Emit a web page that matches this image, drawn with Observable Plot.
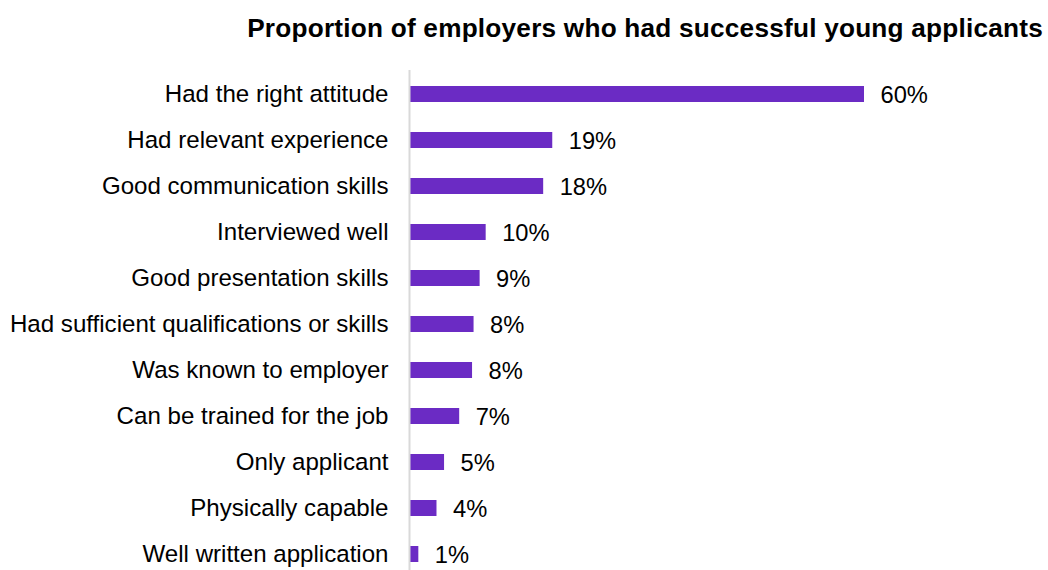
<!DOCTYPE html>
<html>
<head>
<meta charset="utf-8">
<script src="https://cdn.jsdelivr.net/npm/d3@7"></script>
<script src="https://cdn.jsdelivr.net/npm/@observablehq/plot@0.6"></script>
<style>
  html, body { margin: 0; padding: 0; background: #fff; }
  #wrap { position: relative; width: 1048px; height: 570px; font-family: "Liberation Sans", Arial, sans-serif; }
  #title { position: absolute; top: 15px; right: 5px; font-size: 26.2px; line-height: 26px; font-weight: bold; color: #000; white-space: nowrap; letter-spacing: 0.22px; }
  #chart { position: absolute; left: 0; top: 0; }
</style>
</head>
<body>
<div id="wrap">
  <div id="chart"></div>
  <div id="title"></div>
</div>
<script>
const title = "Proportion of employers who had successful young applicants";
const categories = [
  "Had the right attitude",
  "Had relevant experience",
  "Good communication skills",
  "Interviewed well",
  "Good presentation skills",
  "Had sufficient qualifications or skills",
  "Was known to employer",
  "Can be trained for the job",
  "Only applicant",
  "Physically capable",
  "Well written application"
];
const values = [60, 18.8, 17.6, 10.0, 9.2, 8.4, 8.2, 6.5, 4.5, 3.5, 1.1];
const valueLabels = ["60%", "19%", "18%", "10%", "9%", "8%", "8%", "7%", "5%", "4%", "1%"];

const data = categories.map((c, i) => ({cat: c, value: values[i], label: valueLabels[i]}));

document.getElementById("title").textContent = title;

const chart = Plot.plot({
  width: 1048,
  height: 570,
  marginLeft: 410,
  marginRight: 184,
  marginTop: 70,
  marginBottom: 0,
  style: {fontFamily: "'Liberation Sans', Arial, sans-serif", fontSize: "24.1px", color: "#000", background: "transparent"},
  x: {domain: [0, 60], axis: null},
  y: {domain: categories, label: null, tickSize: 0, tickPadding: 22, paddingInner: 0.643, paddingOuter: 0.227, align: 0.68},
  marks: [
    Plot.barX(data, {x: "value", y: "cat", fill: "#6b2bc4"}),
    Plot.ruleX([0], {stroke: "#d9d9d9", strokeWidth: 2, dx: -1}),
    Plot.text(data, {x: "value", y: "cat", text: "label", textAnchor: "start", dx: 16, dy: 1, fontSize: 23.7, fill: "#000"})
  ]
});
document.getElementById("chart").appendChild(chart);
</script>
</body>
</html>
